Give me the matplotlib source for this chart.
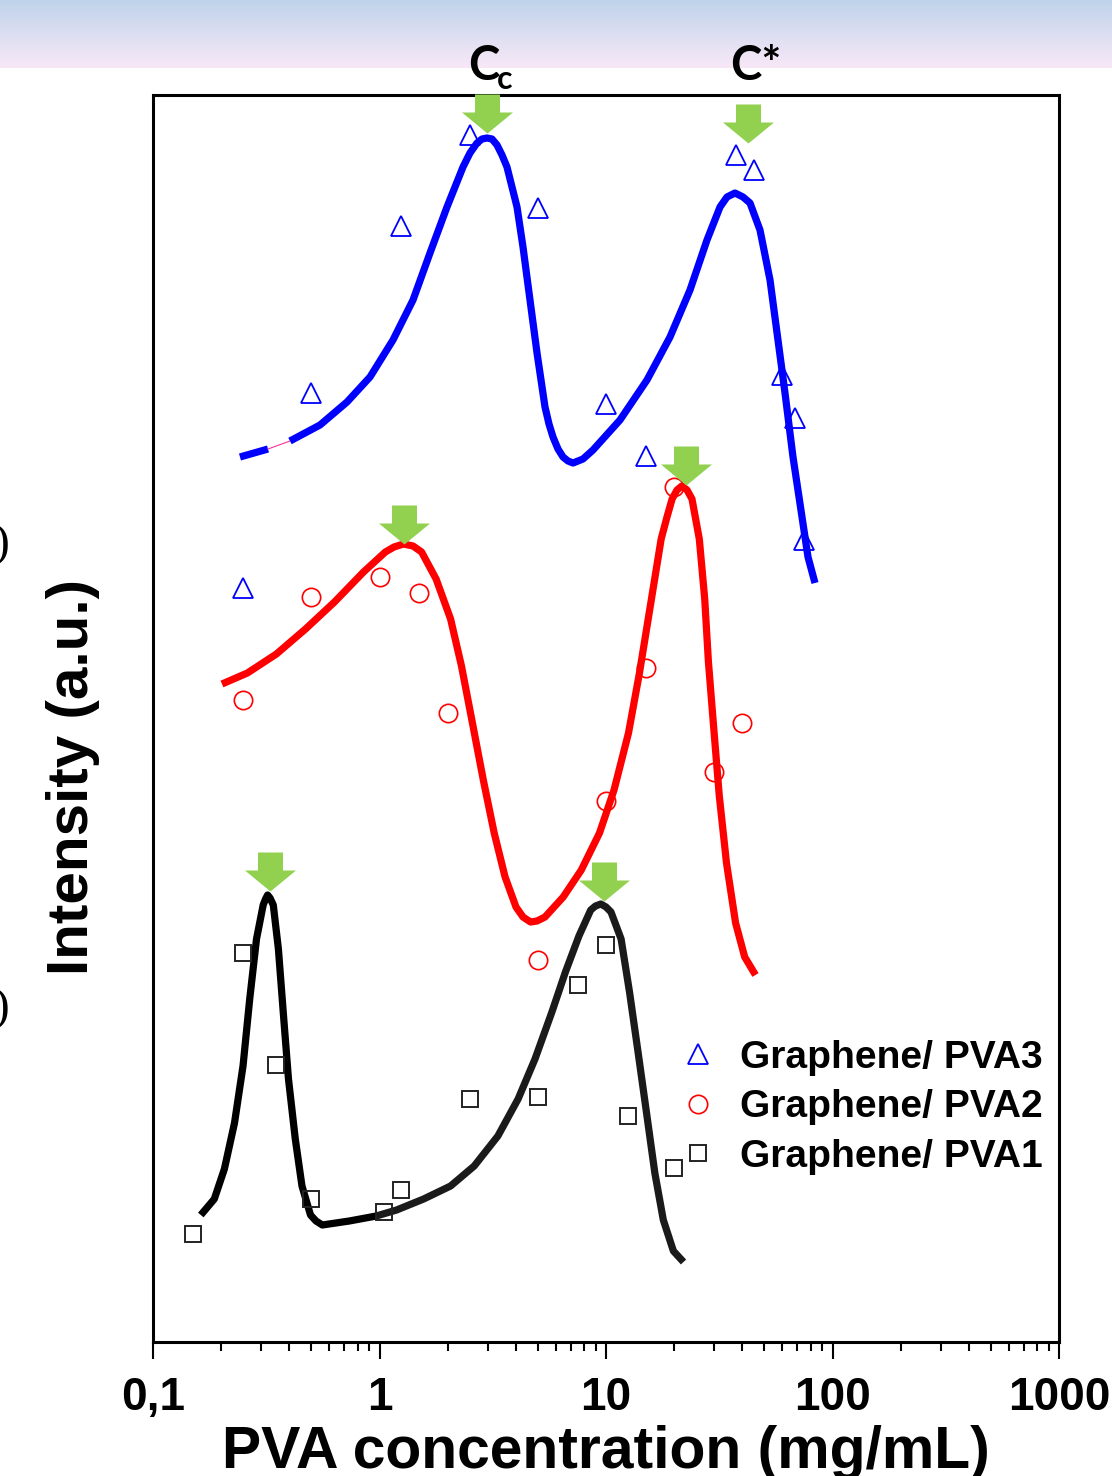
import numpy as np
import matplotlib
matplotlib.use("Agg")
import matplotlib.pyplot as plt
from matplotlib.path import Path
from matplotlib.colors import LinearSegmentedColormap

# ---------------- data ----------------
pva3_x = [0.25, 0.5, 1.25, 2.5, 5, 10, 15, 37.5, 45, 60, 68, 75]
pva3_y = [75.4, 94.9, 111.6, 120.7, 113.4, 93.8, 88.6, 118.7, 117.2, 96.7, 92.4, 80.2]

pva2_x = [0.25, 0.5, 1, 1.5, 2, 5, 10, 15, 20, 30, 40]
pva2_y = [64.2, 74.5, 76.5, 74.9, 62.9, 38.2, 54.1, 67.4, 85.5, 57.0, 61.9]

pva1_x = [0.15, 0.25, 0.35, 0.5, 1.05, 1.25, 2.5, 5, 7.5, 10, 12.5, 20]
pva1_y = [10.8, 38.9, 27.7, 14.3, 13.0, 15.2, 24.3, 24.5, 35.7, 39.7, 22.6, 17.4]

# fitted curves
fit3_x = [0.2421, 0.3219, 0.4026, 0.5462, 0.7188, 0.9080, 1.147, 1.406, 1.671, 1.986,
          2.337, 2.509, 2.695, 2.835, 2.983, 3.138, 3.302, 3.474, 3.655, 4.047,
          4.301, 4.618, 4.960, 5.379, 5.602, 5.834, 6.139, 6.461, 6.796, 7.152,
          7.913, 8.762, 11.53, 15.17, 19.17, 23.49, 27.92, 31.87, 34.21, 37.11,
          40.26, 43.23, 47.85, 52.98, 57.45, 61.70, 66.93, 73.34, 77.95, 83.70]
fit3_y = [88.5, 89.3, 90.1, 91.7, 94.0, 96.5, 100.2, 104.2, 108.9, 113.5,
          117.5, 118.9, 119.9, 120.3, 120.4, 120.3, 119.7, 118.7, 117.5, 113.5,
          109.5, 104.2, 98.9, 93.5, 91.8, 90.5, 89.3, 88.5, 88.1, 87.9,
          88.3, 89.2, 92.2, 96.2, 100.5, 105.2, 110.2, 113.5, 114.5, 114.9,
          114.5, 113.9, 111.2, 106.2, 100.2, 94.9, 88.5, 82.5, 78.5, 75.9]

fit2_x = [0.2016, 0.2611, 0.3506, 0.4714, 0.6328, 0.8500, 1.061, 1.159, 1.276, 1.406,
          1.534, 1.778, 2.060, 2.301, 2.572, 2.873, 3.209, 3.585, 4.005, 4.301,
          4.642, 4.960, 5.379, 6.473, 7.780, 9.362, 10.85, 12.57, 14.05, 15.69,
          17.52, 18.59, 19.58, 20.58, 21.63, 22.79, 23.97, 25.82, 27.28, 28.33,
          29.92, 31.64, 34.04, 37.34, 40.96, 45.71]
fit2_y = [65.8, 66.9, 68.8, 71.3, 74.0, 77.0, 79.0, 79.5, 79.8, 79.6,
          79.0, 76.3, 72.3, 67.6, 61.9, 56.2, 50.9, 46.5, 43.5, 42.5,
          42.0, 42.1, 42.5, 44.5, 47.2, 50.9, 55.2, 60.9, 66.9, 73.6,
          80.3, 82.5, 84.3, 85.2, 85.6, 85.2, 84.3, 80.3, 74.3, 68.0,
          61.3, 54.6, 47.9, 41.9, 38.5, 36.7]

fit1_x = [0.1626, 0.1865, 0.2066, 0.2290, 0.2497, 0.2673, 0.2864, 0.3065, 0.3139, 0.3206,
          0.3286, 0.3397, 0.3578, 0.3770, 0.3964, 0.4248, 0.4547, 0.4959, 0.5244, 0.5592,
          0.7357, 0.9681, 1.190, 1.566, 2.060, 2.619, 3.332, 4.092, 4.859, 5.770,
          6.620, 7.594, 8.561, 8.987, 9.485, 10.0, 10.52, 11.66, 12.70, 13.85,
          15.08, 16.43, 17.91, 19.84, 21.99]
fit1_y = [12.7, 14.3, 17.3, 21.9, 27.6, 34.3, 40.3, 43.7, 44.3, 44.7,
          44.4, 43.7, 39.3, 32.6, 26.3, 20.3, 15.6, 12.7, 12.1, 11.7,
          12.1, 12.6, 13.2, 14.3, 15.6, 17.6, 20.6, 24.3, 28.3, 33.0,
          37.0, 40.6, 43.2, 43.6, 43.8, 43.5, 43.0, 40.3, 35.0, 29.0,
          23.0, 16.9, 12.2, 9.1, 8.0]

# peak markers (green arrows): tip positions
peak_x = [2.98, 42.4, 1.28, 22.5, 0.329, 9.77]
peak_y = [120.9, 119.9, 79.8, 85.7, 45.1, 44.15]

xticks = [0.1, 1, 10, 100, 1000]
xticklabels = ["0,1", "1", "10", "100", "1000"]
labels = ["Graphene/ PVA3", "Graphene/ PVA2", "Graphene/ PVA1"]

# ---------------- figure ----------------
W, H = 1112, 1476
fig = plt.figure(figsize=(W / 100, H / 100), dpi=100)

# top gradient band
band = fig.add_axes([0, 1 - 68 / H, 1, 68 / H])
cmap = LinearSegmentedColormap.from_list("band", ["#BFD3EA", "#DCDEF1", "#F8E8F7"])
band.imshow(np.linspace(0, 1, 100).reshape(-1, 1), aspect="auto", cmap=cmap,
            extent=[0, 1, 0, 1])
band.set_axis_off()

ax = fig.add_axes([153 / W, 1 - 1342 / H, (1059 - 153) / W, (1342 - 95) / H])
ax.set_xscale("log")
ax.set_xlim(0.1, 1000)
ax.set_ylim(0, 124.7)

lw = 5.2
kw = dict(lw=lw, solid_capstyle="butt", solid_joinstyle="round", zorder=2)
# blue fit (with small broken piece at the start)
ax.plot(fit3_x[:2], fit3_y[:2], color="#0000FF", **kw)
ax.plot(fit3_x[1:3], fit3_y[1:3], color="#FF3399", lw=0.8, zorder=2)
ax.plot(fit3_x[2:], fit3_y[2:], color="#0000FF", **kw)
ax.plot(fit2_x, fit2_y, color="#FF0000", **kw)
ax.plot(fit1_x[:22], fit1_y[:22], color="#000000", **kw)
ax.plot(fit1_x[21:], fit1_y[21:], color="#1a1a1a", **kw)

h3, = ax.plot(pva3_x, pva3_y, ls="none", marker="^", ms=14.5, mfc="none",
              mec="#0000FF", mew=1.3, zorder=4)
h2, = ax.plot(pva2_x, pva2_y, ls="none", marker="o", ms=13.2, mfc="none",
              mec="#FF0000", mew=1.2, zorder=4)
h1, = ax.plot(pva1_x, pva1_y, ls="none", marker="s", ms=11.2, mfc="none",
              mec="#222222", mew=1.4, zorder=4)

# green down arrows as custom marker (tip at origin)
arrow_verts = [(0, 0), (25.5, 21), (12.5, 21), (12.5, 39), (-12.5, 39),
               (-12.5, 21), (-25.5, 21), (0, 0)]
arrow_path = Path(arrow_verts, [Path.MOVETO] + [Path.LINETO] * 6 + [Path.CLOSEPOLY])
ax.plot(peak_x, peak_y, ls="none", marker=arrow_path, ms=78 * 0.72,
        mfc="#92D050", mec="none", mew=0, zorder=5, clip_on=False)

# axes styling
for sp in ax.spines.values():
    sp.set_linewidth(2.2)
ax.set_yticks([])
ax.set_xticks(xticks)
ax.set_xticklabels(xticklabels)
ax.tick_params(axis="x", which="major", direction="out", length=12.5, width=1.5,
               pad=12, labelsize=33)
ax.tick_params(axis="x", which="minor", direction="out", length=6.5, width=1.5)
for t in ax.get_xticklabels():
    t.set_fontfamily("Liberation Sans")
    t.set_fontweight("bold")

ax.set_xlabel("PVA concentration (mg/mL)", fontsize=42.4, fontweight="bold",
              family="Liberation Sans", va="baseline")
ax.xaxis.set_label_coords(0.5, (1342 - 1468) / 1247)
ax.set_ylabel("Intensity (a.u.)", fontsize=42, fontweight="bold",
              family="Liberation Sans", va="center", ha="center")
ax.yaxis.set_label_coords((73 - 153) / 906, (1342 - 777) / 1247)

leg = ax.legend([h3, h2, h1], labels, loc="upper left",
                bbox_to_anchor=((678 - 153) / 906, (1342 - 1040) / 1247),
                frameon=False, handlelength=1.0, handletextpad=0.59,
                labelspacing=0.34, borderpad=0, borderaxespad=0,
                prop={"family": "Liberation Sans", "weight": "bold", "size": 28.1})

# Cc and C* labels
fig.text(484 / W, 1 - 80 / H, "C", fontsize=34, fontweight="bold", family="Lato",
         ha="center", va="baseline")
fig.text(505 / W, 1 - 89 / H, "c", fontsize=23, fontweight="bold", family="Lato",
         ha="center", va="baseline")
fig.text(756 / W, 1 - 80 / H, "C*", fontsize=34, fontweight="bold", family="Lato",
         ha="center", va="baseline")

# cropped remnants at the left edge
fig.text(9 / W, 1 - 556 / H, ")", fontsize=34, family="Liberation Serif",
         ha="right", va="baseline")
fig.text(11 / W, 1 - 1020 / H, ".)", fontsize=34, family="Liberation Serif",
         ha="right", va="baseline")

fig.savefig("out.png", dpi=100)
